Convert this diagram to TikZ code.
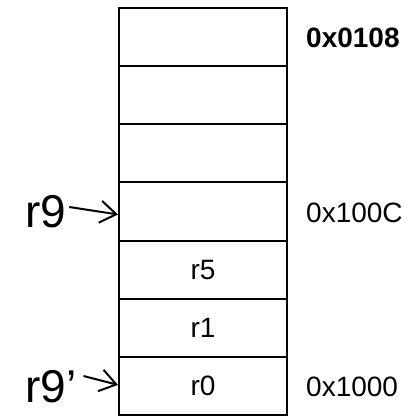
\documentclass[tikz,border=0pt]{standalone}
\usepackage{fontspec}
\setmainfont{Liberation Sans}
\usetikzlibrary{arrows.meta}
\begin{document}
\begin{tikzpicture}[x=1pt,y=-1pt,
  cell/.style={draw, line width=2pt, minimum width=168pt, minimum height=58.14pt,
    inner sep=0pt, font=\fontsize{28}{32}\selectfont},
  addr/.style={anchor=west, inner sep=0pt, font=\fontsize{28}{32}\selectfont},
  reg/.style={anchor=west, inner sep=0pt, font=\fontsize{46}{50}\selectfont},
  ptr/.style={line width=2pt, -{Straight Barb[length=16pt,width=22pt]}}]
\useasboundingbox (0,0) rectangle (420,418);
% memory cells, top to bottom
\node[cell] (c1) at (203, 37.07) {};
\node[cell] (c2) at (203, 95.21) {};
\node[cell] (c3) at (203,153.35) {};
\node[cell] (c4) at (203,211.49) {};
\node[cell] (c5) at (203,269.63) {r5};
\node[cell] (c6) at (203,327.77) {r1};
\node[cell] (c7) at (203,385.91) {r0};
% addresses
\node[addr] (a1) at (306, 38) {\bfseries 0x0108};
\node[addr] (a4) at (306,213) {0x100C};
\node[addr] (a7) at (306,387) {0x1000};
% register pointers
\node[reg] (r9) at (25,212) {r9};
\node[reg] (r9p) at (25,387) {r9’};
\draw[ptr] ([xshift=3pt,yshift=5pt]r9.east) -- ([yshift=-3pt]c4.west);
\draw[ptr] ([xshift=7pt,yshift=11pt]r9p.east) -- ([yshift=1pt]c7.west);
\end{tikzpicture}
\end{document}
